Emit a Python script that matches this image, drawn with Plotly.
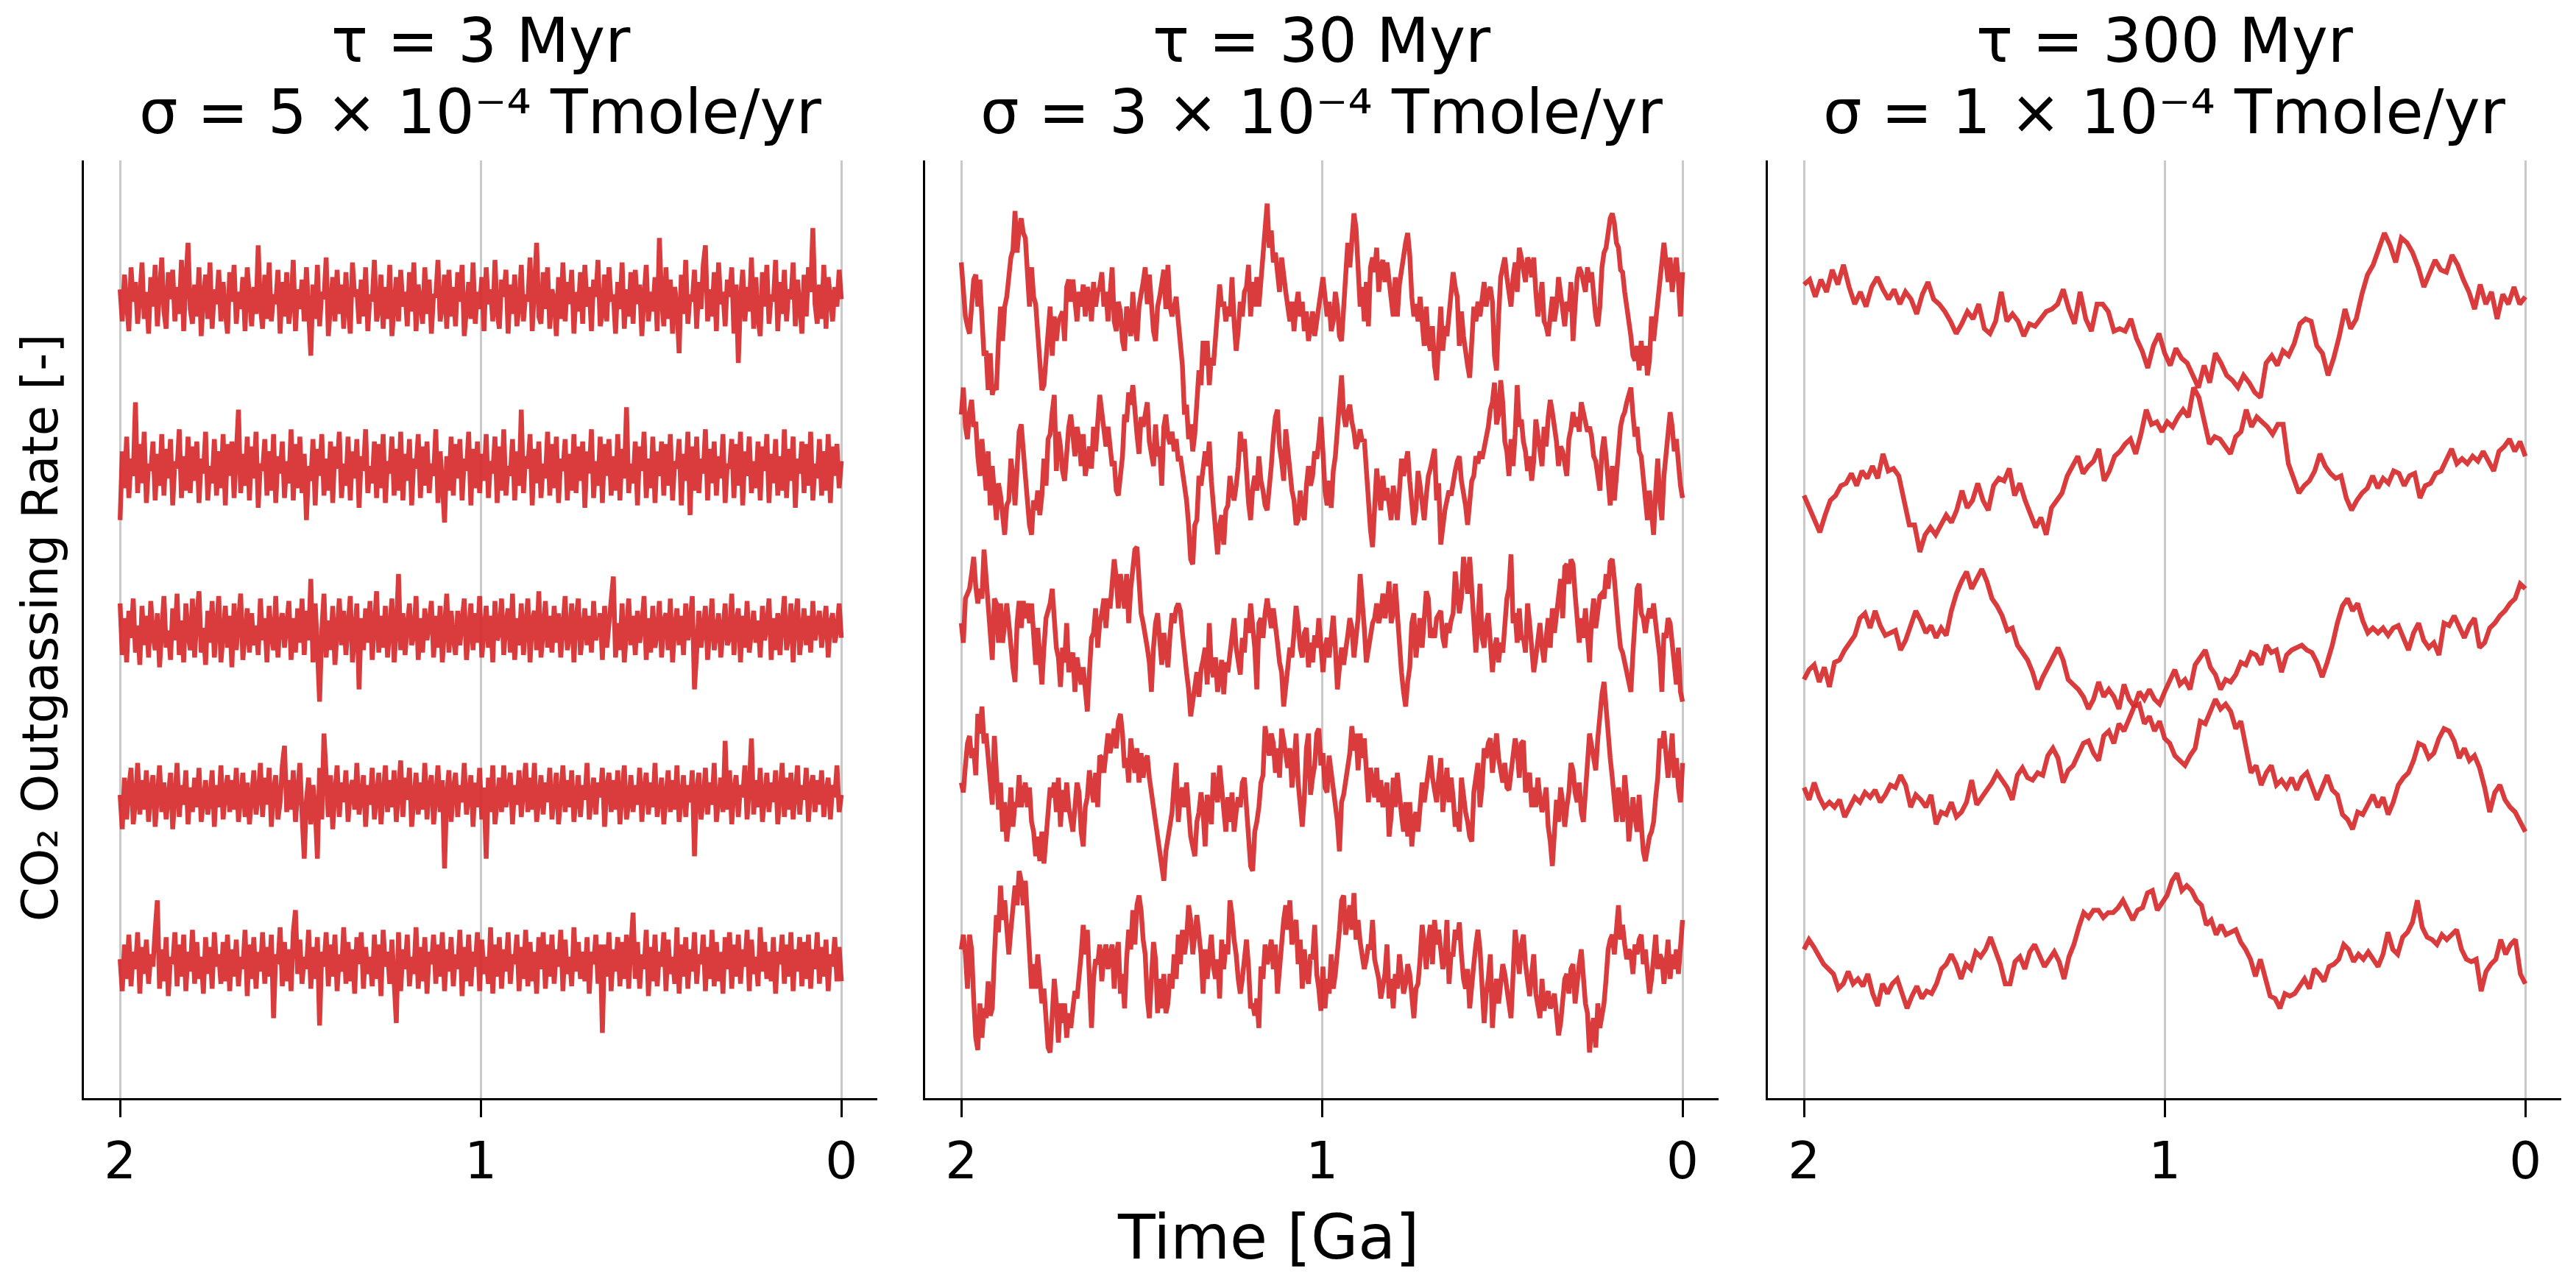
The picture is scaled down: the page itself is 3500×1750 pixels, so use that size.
import numpy as np
import plotly.graph_objects as go

# x axis: time before present [Ga]
TICKS = [2, 1, 0]
TICK_TEXT = ["2", "1", "0"]

# panel parameters (correlation time, noise amplitude)
TAU = ["3", "30", "300"]
SIGMA = ["5", "3", "1"]

# normalised CO2 outgassing rate, five runs per panel (stacked offsets)
# --- tau = 3 Myr ---
p1_r1 = [33.2, 31.9, 33.8, 32.4, 31.5, 34.1, 32.7, 33.5, 31.8, 32.9, 34.3, 32.0, 33.1, 31.4, 33.7,
         32.5, 34.2, 31.7, 33.0, 34.5, 32.3, 31.6, 33.9, 32.8, 34.0, 31.9, 33.3, 32.2, 34.4, 31.5,
         33.6, 35.1, 32.4, 31.8, 33.4, 32.1, 34.1, 31.3, 32.9, 33.8, 32.0, 34.3, 31.6, 33.2, 32.6,
         34.0, 31.9, 33.5, 32.3, 31.4, 33.9, 32.7, 34.2, 31.8, 33.1, 32.4, 33.7, 31.5, 34.1, 32.8,
         31.7, 33.3, 32.2, 35.0, 32.5, 31.6, 33.8, 32.0, 34.3, 31.9, 33.0, 32.6, 34.0, 31.4, 33.5,
         32.1, 33.9, 31.8, 32.7, 34.4, 31.5, 33.2, 32.4, 33.6, 31.9, 34.1, 32.3, 30.5, 33.4, 32.0,
         34.2, 31.7, 33.1, 32.8, 34.5, 31.3, 32.6, 33.7, 31.9, 34.0, 32.2, 33.4, 31.6, 33.9, 32.5,
         31.4, 34.3, 32.9, 33.2, 31.8, 33.6, 32.1, 34.1, 31.5, 33.0, 32.7, 34.4, 31.9, 32.4, 33.8,
         31.6, 33.3, 32.0, 34.2, 31.3, 32.8, 33.7, 31.9, 34.0, 32.5, 33.1, 31.7, 33.9, 32.3, 34.3,
         31.5, 33.4, 32.6, 31.8, 34.1, 32.2, 33.6, 31.4, 33.0, 32.9, 34.4, 31.9, 32.5, 33.8, 31.6,
         34.0, 32.1, 33.3, 31.7, 33.9, 32.7, 34.2, 31.3, 32.8, 33.5, 32.0, 34.3, 31.8, 33.1, 32.4,
         33.7, 31.5, 34.1, 32.6, 33.2, 31.9, 34.4, 32.3, 31.6, 33.6, 32.9, 34.0, 31.4, 33.4, 32.2,
         33.8, 31.7, 32.5, 34.2, 31.9, 33.0, 32.7, 34.5, 31.5, 33.3, 35.1, 32.1, 31.8, 33.9, 32.4,
         34.1, 31.6, 33.2, 32.8, 31.3, 33.7, 32.0, 34.3, 31.9, 33.5, 32.6, 34.0, 31.4, 33.1, 32.3,
         33.9, 31.8, 34.2, 32.5, 33.3, 31.5, 33.6, 32.9, 34.4, 31.7, 32.2, 33.8, 31.9, 34.1, 32.7,
         33.0, 31.4, 33.5, 32.4, 34.3, 31.6, 33.2, 32.1, 33.9, 31.8, 34.0, 32.6, 33.4, 31.3, 32.9,
         34.2, 31.9, 33.1, 32.3, 33.7, 31.5, 35.3, 32.8, 31.7, 34.1, 32.0, 33.6, 31.4, 33.3, 32.5,
         30.6, 33.8, 32.2, 34.4, 31.8, 33.0, 32.7, 34.0, 31.6, 33.5, 32.4, 34.2, 35.0, 31.9, 33.2,
         32.1, 33.9, 31.5, 34.3, 32.6, 33.1, 31.7, 33.6, 32.9, 34.1, 31.4, 33.4, 30.2, 32.8, 34.0,
         31.9, 33.3, 32.3, 34.5, 31.6, 33.7, 32.0, 31.3, 33.9, 32.5, 34.2, 31.8, 33.0, 32.7, 34.4,
         31.5, 33.5, 32.2, 34.0, 31.9, 33.2, 32.8, 34.3, 31.7, 33.6, 32.4, 31.4, 33.8, 32.1, 34.1,
         33.1, 35.7, 32.6, 31.8, 33.4, 32.0, 34.2, 31.6, 33.7, 32.9, 31.9, 33.3, 32.5, 34.0, 32.8]
p1_r2 = [23.8, 26.6, 25.1, 27.2, 24.7, 26.3, 25.6, 28.6, 24.9, 26.9, 25.3, 27.4, 24.5, 26.1, 25.8,
         27.0, 24.6, 26.5, 25.2, 27.3, 24.8, 26.7, 25.5, 27.1, 24.4, 26.2, 25.9, 27.5, 24.7, 26.4,
         25.0, 27.2, 24.9, 26.8, 25.4, 27.0, 24.5, 26.3, 25.7, 27.4, 24.6, 26.0, 25.3, 27.1, 24.8,
         26.6, 25.1, 27.3, 24.4, 26.9, 25.6, 27.0, 24.7, 26.2, 28.3, 24.9, 26.5, 25.2, 27.2, 24.6,
         26.8, 25.5, 27.4, 24.3, 26.1, 25.8, 27.1, 24.8, 26.6, 25.0, 27.3, 24.5, 26.4, 25.7, 27.0,
         24.7, 26.2, 25.3, 27.5, 24.6, 26.9, 25.1, 27.2, 24.9, 26.5, 23.8, 26.0, 25.4, 27.1, 24.4,
         26.7, 25.6, 27.3, 24.8, 26.3, 25.0, 27.0, 24.5, 26.8, 25.9, 27.4, 24.7, 26.1, 25.2, 27.2,
         24.6, 26.6, 25.5, 27.1, 24.3, 26.4, 25.8, 27.5, 24.9, 26.0, 25.3, 27.0, 24.7, 26.9, 25.1,
         27.3, 24.5, 26.2, 25.7, 27.2, 24.8, 26.7, 25.0, 27.4, 24.6, 26.5, 25.4, 27.1, 24.4, 26.3,
         25.9, 27.3, 24.7, 26.8, 25.2, 27.0, 24.9, 26.1, 25.6, 27.5, 24.5, 26.6, 25.3, 23.7, 26.4,
         25.0, 27.2, 24.8, 26.9, 25.5, 27.1, 24.6, 26.3, 25.8, 27.4, 24.4, 26.7, 25.1, 27.0, 24.9,
         26.5, 25.4, 27.3, 24.7, 26.2, 25.7, 27.2, 24.5, 26.8, 25.0, 27.5, 24.8, 26.0, 25.6, 27.1,
         24.6, 26.6, 25.2, 28.3, 24.9, 26.4, 25.9, 27.3, 24.4, 26.7, 25.3, 27.0, 24.7, 26.1, 25.5,
         27.4, 24.8, 26.9, 25.1, 27.2, 24.5, 26.3, 25.8, 27.1, 24.6, 26.5, 25.0, 27.3, 24.9, 26.8,
         25.4, 27.0, 24.3, 26.6, 25.7, 27.5, 24.7, 26.2, 25.2, 27.2, 24.5, 26.9, 25.6, 27.1, 24.8,
         26.4, 25.0, 27.3, 24.6, 26.7, 25.5, 28.4, 24.9, 26.1, 25.3, 27.0, 24.4, 26.8, 25.8, 27.4,
         24.7, 26.3, 25.1, 27.2, 24.5, 26.6, 25.6, 27.0, 24.8, 26.9, 25.2, 27.3, 24.6, 26.2, 25.9,
         27.1, 24.4, 26.5, 25.4, 27.4, 24.0, 26.8, 25.0, 27.2, 24.9, 26.3, 25.7, 27.5, 24.6, 26.7,
         25.3, 27.0, 24.8, 26.4, 25.5, 27.3, 24.5, 26.1, 25.9, 27.1, 24.7, 26.9, 25.2, 27.4, 24.4,
         26.6, 25.6, 27.2, 24.9, 26.2, 25.1, 27.0, 24.6, 26.8, 25.8, 27.3, 24.5, 26.5, 25.3, 27.1,
         24.8, 26.4, 25.0, 27.5, 24.7, 26.7, 25.4, 27.2, 24.3, 26.3, 25.7, 27.0, 24.9, 26.9, 25.2,
         27.4, 24.6, 26.1, 25.5, 27.1, 24.8, 26.6, 25.0, 27.3, 24.5, 26.8, 25.6, 26.9, 25.1, 26.2]
p1_r3 = [20.4, 18.3, 19.8, 18.0, 20.1, 19.0, 20.6, 18.4, 19.5, 17.9, 20.3, 18.7, 19.9, 18.2, 20.5,
         19.1, 18.5, 20.0, 17.8, 19.6, 20.7, 18.6, 19.3, 18.1, 20.2, 18.9, 20.8, 18.3, 19.7, 18.0,
         20.4, 19.2, 18.5, 20.6, 18.2, 19.9, 20.9, 18.4, 19.4, 17.9, 20.1, 18.8, 20.5, 18.2, 19.6,
         20.7, 18.0, 19.3, 20.3, 18.6, 19.9, 17.8, 20.4, 18.5, 19.7, 20.8, 18.1, 19.0, 20.2, 18.4,
         20.0, 18.7, 19.5, 18.3, 20.6, 18.9, 19.8, 18.0, 20.3, 19.1, 18.5, 20.7, 18.2, 19.6, 20.0,
         18.6, 19.4, 20.5, 18.1, 19.8, 18.4, 20.2, 18.8, 20.6, 18.3, 20.1, 18.9, 21.4, 18.0, 20.4,
         18.6, 16.4, 19.3, 20.8, 18.2, 19.7, 18.5, 20.3, 17.9, 19.5, 20.6, 18.7, 20.1, 18.3, 19.6,
         20.7, 18.0, 19.2, 20.4, 16.9, 19.8, 18.5, 20.2, 18.8, 20.5, 18.1, 19.4, 20.9, 18.4, 19.9,
         18.6, 20.3, 18.2, 19.7, 20.6, 18.0, 19.3, 21.6, 18.5, 20.0, 18.3, 19.5, 20.4, 18.7, 19.1,
         20.7, 18.1, 19.8, 18.4, 20.2, 18.9, 19.6, 20.5, 18.2, 19.9, 18.6, 20.3, 18.0, 19.4, 20.8,
         18.4, 20.1, 19.0, 18.3, 20.1, 18.7, 19.7, 20.6, 18.1, 19.3, 20.4, 18.5, 20.0, 18.8, 20.7,
         18.2, 19.5, 20.3, 18.6, 19.9, 18.0, 20.5, 18.9, 19.2, 20.6, 18.3, 19.6, 20.2, 18.4, 20.8,
         18.1, 19.8, 18.7, 20.4, 18.3, 19.4, 20.6, 18.0, 19.7, 20.1, 18.5, 20.9, 18.2, 19.3, 20.5,
         18.6, 19.9, 18.4, 20.3, 18.8, 20.0, 18.2, 19.6, 20.7, 18.5, 19.1, 20.4, 18.0, 19.8, 20.6,
         18.3, 19.5, 20.2, 18.7, 19.9, 18.4, 20.5, 18.9, 19.4, 20.0, 18.1, 20.3, 18.6, 19.7, 20.8,
         21.5, 18.2, 19.6, 18.5, 20.4, 18.0, 19.3, 20.6, 18.7, 19.9, 18.3, 20.1, 18.8, 19.5, 20.7,
         18.1, 19.8, 18.4, 20.3, 18.6, 19.2, 20.5, 18.2, 19.7, 20.0, 18.5, 20.6, 18.0, 19.4, 20.2,
         18.7, 19.9, 18.3, 20.4, 18.9, 19.6, 20.7, 16.9, 18.4, 20.1, 18.6, 19.5, 20.3, 18.1, 19.8,
         20.6, 18.5, 19.3, 20.0, 18.2, 19.7, 20.4, 18.7, 19.0, 20.8, 18.3, 19.6, 20.2, 18.0, 19.9,
         18.6, 20.5, 18.4, 19.4, 20.1, 18.8, 19.7, 18.2, 20.3, 18.9, 19.5, 20.6, 18.1, 19.8, 18.5,
         20.0, 18.3, 19.6, 20.7, 18.5, 19.1, 20.4, 18.0, 19.8, 20.6, 18.3, 19.5, 20.2, 18.7, 19.9,
         18.4, 20.5, 18.9, 19.4, 20.1, 18.6, 19.7, 20.3, 18.2, 19.6, 20.0, 18.8, 19.3, 20.4, 19.0]
p1_r4 = [12.6, 11.2, 13.3, 11.6, 12.9, 13.7, 11.4, 12.3, 13.9, 11.8, 13.2, 12.0, 13.6, 11.5, 12.8,
         13.4, 11.3, 12.5, 13.8, 11.9, 13.1, 11.6, 12.7, 13.5, 11.2, 12.4, 13.9, 11.7, 13.0, 12.2,
         13.6, 11.4, 12.9, 11.9, 13.3, 12.1, 13.7, 11.5, 12.6, 13.2, 11.8, 12.4, 13.6, 11.3, 13.0,
         12.1, 13.8, 11.6, 12.7, 13.4, 11.9, 13.2, 12.0, 13.7, 11.5, 12.8, 13.5, 11.7, 13.1, 11.4,
         12.9, 13.6, 11.8, 12.5, 13.9, 11.7, 13.3, 12.2, 13.7, 11.3, 12.8, 13.4, 11.6, 12.3, 13.8,
         14.6, 11.9, 13.2, 12.0, 13.6, 11.5, 12.7, 13.9, 11.8, 10.0, 12.4, 13.3, 11.4, 13.0, 12.1,
         10.0, 13.7, 11.6, 15.1, 12.9, 11.7, 13.4, 11.2, 12.7, 13.8, 11.7, 13.1, 12.3, 13.6, 11.5,
         12.8, 13.2, 12.0, 13.9, 11.8, 12.5, 13.4, 11.3, 13.0, 12.2, 13.7, 11.6, 12.9, 13.5, 11.4,
         12.6, 13.8, 11.9, 13.2, 12.1, 13.6, 11.5, 12.8, 14.0, 11.7, 13.3, 12.4, 13.7, 11.3, 12.7,
         13.5, 11.8, 13.1, 12.0, 13.9, 11.6, 12.9, 13.4, 11.4, 12.5, 13.8, 11.9, 13.2, 9.6, 12.6,
         13.6, 11.5, 12.8, 13.5, 11.7, 13.0, 12.3, 13.9, 11.8, 12.6, 13.4, 11.3, 13.1, 12.1, 13.7,
         11.6, 12.9, 10.0, 13.3, 11.9, 13.8, 11.4, 12.4, 13.3, 11.9, 13.8, 12.1, 12.7, 13.5, 11.4,
         13.0, 12.2, 13.6, 11.7, 12.8, 13.9, 11.9, 13.3, 12.0, 13.9, 11.5, 12.6, 13.4, 11.8, 13.1,
         12.3, 13.7, 11.6, 12.9, 13.5, 11.4, 12.7, 13.8, 11.9, 13.2, 12.1, 13.6, 11.5, 12.8, 13.4,
         11.7, 13.0, 12.4, 13.9, 11.6, 12.6, 13.3, 11.8, 13.1, 12.5, 13.7, 11.3, 12.9, 13.5, 11.9,
         13.2, 12.0, 13.6, 11.4, 12.7, 13.8, 11.6, 12.3, 13.4, 11.9, 13.0, 12.2, 13.7, 11.5, 12.8,
         13.5, 11.8, 13.1, 12.1, 13.9, 11.7, 12.5, 13.3, 11.4, 12.9, 13.6, 11.9, 13.2, 12.0, 13.8,
         11.5, 12.7, 13.4, 11.7, 13.0, 12.3, 13.6, 10.1, 12.8, 13.5, 11.6, 12.4, 13.7, 11.8, 13.1,
         12.2, 13.9, 11.5, 12.6, 13.3, 11.9, 14.8, 12.0, 13.6, 11.4, 12.8, 13.4, 11.7, 13.0, 12.5,
         13.8, 11.6, 12.9, 14.9, 11.8, 13.2, 12.1, 13.7, 11.5, 12.7, 13.5, 11.9, 13.1, 12.3, 13.6,
         11.4, 12.8, 13.9, 11.7, 13.3, 12.0, 13.5, 11.6, 12.6, 13.8, 11.8, 13.0, 12.4, 13.7, 11.5,
         12.9, 13.4, 11.9, 13.2, 12.2, 13.6, 11.7, 12.7, 13.3, 11.6, 13.0, 12.5, 13.8, 11.9, 12.6]
p1_r5 = [5.9, 4.6, 6.5, 5.1, 6.9, 4.8, 6.2, 5.5, 7.0, 4.5, 6.4, 5.3, 6.7, 4.9, 6.1,
         5.6, 7.1, 8.3, 4.7, 6.3, 5.0, 6.8, 4.4, 6.0, 5.7, 7.0, 4.8, 6.5, 5.2, 6.9,
         4.6, 6.2, 5.4, 7.1, 4.9, 6.6, 5.1, 6.0, 4.5, 6.8, 5.3, 6.4, 4.7, 7.0, 5.6,
         6.1, 4.9, 6.6, 5.0, 6.9, 4.6, 6.3, 5.2, 6.7, 4.8, 6.0, 5.5, 7.1, 4.4, 6.5,
         5.1, 6.8, 4.7, 6.2, 5.4, 7.0, 4.9, 6.4, 5.2, 6.9, 3.5, 6.1, 5.7, 7.2, 4.8,
         6.6, 5.0, 6.3, 4.6, 7.0, 7.9, 5.3, 6.7, 4.9, 6.0, 5.5, 7.1, 4.7, 6.4, 5.1,
         6.8, 3.2, 6.2, 5.6, 7.0, 4.8, 6.5, 5.2, 6.9, 4.6, 6.1, 5.4, 7.2, 4.9, 6.6,
         5.0, 6.3, 4.5, 6.8, 5.7, 7.0, 4.7, 6.4, 5.3, 6.0, 4.8, 6.9, 5.1, 6.5, 4.4,
         7.1, 5.6, 6.2, 4.9, 6.7, 5.2, 3.3, 7.0, 4.6, 6.3, 5.5, 6.9, 4.8, 6.0, 5.3,
         7.2, 4.7, 6.4, 5.0, 6.8, 4.5, 6.2, 5.7, 6.9, 4.9, 6.5, 5.2, 7.0, 4.6, 6.3,
         5.4, 6.8, 4.8, 6.1, 5.5, 7.1, 4.4, 6.4, 5.0, 6.9, 4.8, 6.2, 5.6, 7.0, 4.6,
         6.7, 5.3, 6.0, 4.9, 7.2, 4.5, 6.5, 5.2, 6.8, 4.7, 6.3, 5.4, 7.0, 4.9, 6.1,
         5.7, 6.9, 4.6, 6.4, 5.1, 7.1, 4.8, 6.6, 5.0, 6.2, 4.5, 6.8, 5.5, 7.0, 4.7,
         6.5, 5.2, 6.9, 4.9, 6.3, 5.6, 7.1, 4.6, 6.7, 5.3, 6.0, 4.8, 7.2, 5.4, 6.6,
         5.1, 6.2, 5.0, 6.8, 4.5, 6.2, 5.7, 6.9, 4.9, 6.5, 2.9, 6.5, 5.2, 7.0, 4.6,
         6.3, 5.4, 6.8, 4.8, 6.6, 5.1, 6.9, 4.7, 6.4, 7.8, 5.1, 6.6, 4.7, 6.1, 5.5,
         7.1, 4.4, 6.4, 5.0, 6.9, 4.8, 6.2, 5.6, 7.0, 4.6, 6.7, 5.3, 6.0, 4.9, 7.2,
         4.5, 6.5, 5.2, 6.8, 4.7, 6.3, 5.4, 7.0, 4.9, 6.1, 5.7, 6.9, 4.6, 6.4, 5.1,
         7.1, 4.8, 6.6, 5.0, 6.2, 4.5, 6.8, 5.5, 7.0, 4.7, 6.5, 5.2, 6.9, 4.9, 6.3,
         5.6, 7.1, 4.6, 6.7, 5.3, 6.0, 4.8, 7.2, 5.4, 6.6, 5.1, 6.2, 5.0, 6.8, 4.5,
         6.2, 5.7, 6.9, 4.9, 6.5, 5.2, 7.0, 4.6, 6.3, 5.4, 6.8, 4.8, 6.6, 5.1, 6.9,
         4.7, 6.3, 5.5, 7.0, 4.9, 6.4, 5.2, 6.7, 4.6, 6.1, 5.6, 6.8, 5.0, 6.4, 5.0]

# --- tau = 30 Myr ---
p2_r1 = [34.3, 33.1, 32.1, 31.7, 31.4, 32.5, 33.6, 33.8, 32.5, 33.6, 31.6, 30.5, 30.7, 29.1, 30.6, 28.9, 29.3, 29.1, 31.1, 32.5,
         31.1, 32.5, 32.9, 33.8, 34.5, 34.8, 36.4, 34.7, 35.7, 36.1, 35.5, 35.3, 33.5, 32.5, 34.1, 32.9, 32.6, 31.6, 30.3, 29.1,
         29.3, 30.5, 31.1, 32.5, 30.5, 32.1, 31.1, 31.9, 32.1, 32.3, 31.1, 33.3, 33.6, 32.7, 33.6, 32.7, 31.9, 33.1, 32.5, 33.4,
         32.1, 33.3, 32.9, 31.9, 33.5, 32.5, 33.1, 33.3, 33.9, 32.5, 33.1, 31.9, 32.9, 34.1, 31.9, 31.5, 32.7, 32.3, 31.1, 30.7,
         32.5, 32.1, 31.3, 33.1, 31.7, 31.1, 32.5, 32.9, 33.5, 34.1, 32.6, 33.8, 32.5, 31.5, 31.1, 32.5, 32.9, 33.5, 34.0, 32.4,
         34.2, 32.5, 32.1, 32.5, 32.9, 31.9, 31.1, 30.1, 28.1, 28.5, 27.1, 27.7, 26.6, 27.3, 28.6, 29.9, 29.3, 31.1, 30.1, 31.1,
         29.3, 30.4, 30.1, 31.4, 32.2, 33.4, 32.5, 32.7, 31.9, 32.5, 32.1, 33.7, 31.9, 30.7, 31.5, 32.7, 32.1, 33.1, 33.3, 34.2,
         32.1, 33.5, 32.5, 33.7, 32.5, 33.5, 34.3, 35.3, 36.7, 34.9, 35.6, 34.3, 34.7, 33.9, 33.1, 34.5, 33.6, 33.1, 32.5, 31.9,
         32.7, 31.5, 32.5, 33.1, 32.1, 32.7, 31.5, 32.3, 31.1, 31.7, 32.3, 31.3, 31.9, 32.5, 32.9, 33.7, 32.9, 32.1, 32.7, 31.5,
         31.9, 33.1, 32.5, 31.3, 31.1, 32.5, 33.7, 35.1, 34.1, 35.1, 36.3, 35.7, 34.3, 32.5, 33.3, 31.9, 33.5, 31.7, 34.1, 34.5,
         33.9, 34.9, 33.1, 34.1, 34.4, 33.5, 34.3, 33.5, 32.5, 32.1, 33.7, 32.1, 33.4, 34.1, 34.7, 35.1, 35.5, 34.6, 32.9, 32.1,
         32.6, 31.9, 32.9, 32.1, 30.9, 32.5, 31.1, 30.7, 31.7, 30.1, 29.5, 31.1, 32.5, 30.7, 31.7, 31.3, 32.1, 32.9, 33.9, 33.3,
         32.9, 30.9, 32.3, 31.3, 30.5, 30.1, 29.6, 31.6, 32.5, 31.9, 32.7, 32.1, 32.9, 33.5, 32.5, 33.1, 33.3, 32.7, 30.5, 29.9,
         32.1, 33.7, 34.1, 34.5, 33.7, 33.1, 32.5, 33.7, 34.3, 33.1, 34.9, 34.5, 34.1, 33.5, 34.5, 34.3, 33.7, 34.5, 33.1, 32.1,
         32.7, 33.5, 31.9, 31.7, 31.3, 32.1, 32.9, 31.9, 32.5, 33.7, 32.9, 32.1, 31.7, 32.7, 32.3, 33.5, 31.1, 32.5, 33.7, 34.1,
         33.9, 33.5, 33.1, 34.1, 33.5, 33.9, 32.9, 32.1, 31.7, 32.5, 34.1, 34.7, 34.9, 35.7, 36.1, 36.3, 35.9, 35.1, 34.9, 34.0,
         33.9, 33.1, 32.5, 32.1, 31.3, 30.5, 30.3, 30.9, 29.9, 31.1, 30.1, 30.9, 29.7, 30.3, 32.1, 31.1, 31.9, 32.5, 33.5, 34.5,
         35.1, 34.3, 33.5, 34.5, 33.1, 33.9, 34.5, 33.5, 32.1, 33.9]
p2_r2 = [28.1, 29.2, 27.6, 27.1, 28.2, 28.7, 27.6, 27.8, 26.4, 25.6, 27.1, 25.9, 25.0, 26.6, 24.4, 26.0, 25.0, 23.8, 25.3, 24.8,
         24.0, 23.2, 24.4, 24.6, 26.3, 25.6, 24.4, 25.8, 27.4, 27.7, 26.4, 25.6, 24.6, 23.6, 23.2, 24.6, 24.2, 25.0, 24.0, 24.8,
         26.3, 25.2, 27.1, 27.3, 28.2, 28.9, 25.8, 27.4, 26.8, 25.8, 25.4, 26.8, 27.6, 28.1, 27.1, 26.4, 27.6, 27.1, 26.0, 27.3,
         25.6, 26.4, 26.8, 25.9, 27.6, 26.6, 28.1, 28.9, 28.2, 27.6, 26.8, 27.6, 26.6, 26.0, 26.2, 25.0, 24.8, 25.6, 26.4, 28.1,
         27.8, 29.0, 28.5, 29.3, 27.9, 27.3, 26.5, 28.0, 27.6, 28.1, 28.6, 27.0, 26.6, 26.0, 27.7, 26.4, 26.8, 25.2, 27.6, 28.1,
         27.2, 26.9, 27.4, 26.6, 27.1, 26.2, 26.4, 25.8, 25.0, 24.6, 23.6, 22.2, 22.0, 23.6, 23.8, 25.6, 25.2, 25.8, 26.6, 26.0,
         27.0, 25.4, 24.2, 23.6, 22.4, 23.6, 24.0, 22.8, 24.2, 24.4, 25.6, 25.0, 24.6, 25.2, 26.0, 27.4, 26.6, 27.1, 25.4, 24.5,
         23.8, 25.1, 25.6, 25.0, 26.4, 25.4, 25.0, 24.4, 24.2, 25.0, 26.0, 27.2, 28.0, 28.3, 26.8, 26.2, 25.4, 27.5, 26.6, 25.8,
         25.0, 24.6, 23.6, 23.8, 25.0, 24.2, 23.8, 25.2, 26.0, 25.2, 25.6, 26.6, 26.3, 27.0, 28.0, 26.6, 25.0, 24.4, 25.4, 24.3,
         25.8, 26.4, 27.4, 28.6, 29.7, 28.1, 27.6, 28.2, 28.5, 27.8, 27.4, 26.7, 27.0, 27.5, 27.0, 27.1, 25.8, 24.2, 23.4, 22.7,
         24.4, 25.9, 25.0, 24.2, 25.6, 24.6, 25.1, 24.2, 23.8, 25.2, 24.4, 23.8, 25.0, 26.3, 25.6, 26.2, 26.6, 25.4, 24.6, 23.6,
         24.2, 25.8, 25.2, 24.6, 23.8, 24.8, 25.6, 25.9, 26.4, 26.7, 24.6, 25.3, 22.8, 23.6, 24.2, 24.6, 25.0, 24.8, 25.4, 25.8,
         26.2, 26.4, 25.4, 25.0, 24.4, 23.6, 24.6, 25.4, 25.6, 26.4, 26.1, 26.6, 26.3, 26.7, 27.0, 27.6, 28.3, 28.6, 29.4, 27.7,
         28.1, 29.5, 28.6, 27.0, 26.6, 25.6, 27.1, 26.0, 27.3, 29.3, 27.6, 27.9, 27.0, 26.6, 25.8, 26.4, 25.4, 26.2, 27.9, 27.3,
         26.7, 26.0, 27.6, 26.8, 28.0, 28.7, 28.2, 27.6, 27.0, 26.0, 26.8, 26.6, 26.2, 25.6, 27.1, 27.5, 28.2, 27.6, 28.0, 27.4,
         28.6, 28.2, 27.7, 27.4, 27.6, 27.2, 26.4, 26.2, 25.6, 25.0, 26.6, 27.2, 26.4, 25.0, 24.4, 26.0, 24.6, 25.6, 27.0, 27.6,
         28.0, 28.2, 28.6, 28.9, 29.2, 28.1, 27.2, 27.6, 26.6, 26.4, 25.6, 24.6, 23.8, 25.0, 23.8, 23.2, 25.0, 26.3, 24.6, 23.8,
         25.6, 26.4, 27.1, 28.2, 27.6, 26.6, 27.1, 26.0, 25.2, 24.7]
p2_r3 = [19.6, 18.8, 20.6, 20.8, 21.0, 21.6, 22.3, 21.1, 20.4, 21.0, 20.6, 22.6, 21.6, 20.6, 19.6, 18.1, 20.6, 20.4, 18.8, 20.4,
         18.8, 19.6, 20.4, 19.6, 18.6, 17.8, 17.2, 19.6, 20.5, 19.4, 20.5, 19.8, 20.4, 19.6, 20.4, 18.8, 17.9, 19.4, 18.2, 17.1,
         18.6, 19.8, 20.1, 20.4, 21.0, 20.0, 18.6, 18.2, 17.0, 18.6, 18.0, 19.6, 17.6, 18.1, 18.4, 16.8, 18.2, 17.6, 17.1, 17.8,
         16.6, 16.0, 17.6, 19.0, 19.2, 20.2, 18.6, 19.6, 20.0, 20.6, 19.4, 20.6, 20.2, 21.4, 22.2, 21.4, 20.2, 21.6, 21.0, 20.2,
         21.6, 19.6, 21.0, 22.1, 22.6, 22.7, 21.6, 20.0, 19.6, 19.2, 18.6, 18.0, 16.8, 18.6, 19.6, 20.0, 19.0, 17.9, 19.2, 18.6,
         17.8, 19.1, 20.0, 19.6, 20.2, 20.4, 20.1, 19.2, 18.1, 17.6, 16.9, 15.8, 16.4, 17.2, 17.6, 16.6, 17.7, 18.1, 18.6, 17.1,
         19.6, 17.8, 17.4, 18.2, 16.8, 17.4, 18.1, 16.7, 18.0, 17.6, 18.3, 19.0, 19.8, 18.6, 18.0, 17.5, 19.0, 18.4, 19.8, 19.2,
         20.4, 19.4, 18.6, 16.9, 19.6, 19.8, 19.0, 20.0, 20.6, 20.0, 19.4, 20.2, 19.6, 18.8, 18.0, 17.6, 16.2, 17.2, 17.8, 18.6,
         18.2, 19.2, 20.3, 19.6, 18.6, 18.2, 19.2, 19.4, 17.8, 18.8, 18.0, 19.1, 18.6, 19.8, 18.8, 17.6, 18.6, 19.0, 18.2, 19.0,
         19.9, 18.6, 16.9, 17.8, 18.6, 17.9, 18.7, 19.1, 19.8, 19.4, 18.2, 19.0, 19.8, 21.6, 20.6, 19.4, 18.0, 18.6, 19.2, 19.6,
         19.8, 20.4, 19.6, 20.0, 20.8, 19.8, 20.4, 21.3, 19.6, 20.0, 21.2, 19.8, 18.6, 17.6, 16.8, 16.2, 17.2, 17.8, 19.6, 20.0,
         18.2, 19.0, 19.8, 18.6, 19.8, 20.9, 20.6, 19.0, 19.4, 19.0, 19.8, 20.0, 20.1, 19.0, 18.6, 19.6, 19.2, 19.7, 20.0, 21.7,
         20.8, 20.0, 20.6, 22.3, 21.6, 20.8, 22.3, 21.0, 20.0, 18.4, 19.6, 21.2, 19.0, 18.6, 19.6, 20.0, 18.8, 17.6, 18.6, 19.0,
         18.0, 18.8, 18.4, 19.6, 20.6, 21.0, 22.4, 19.6, 20.0, 18.8, 20.2, 19.0, 19.0, 18.4, 20.4, 19.6, 18.6, 17.6, 18.2, 18.9,
         19.6, 18.6, 18.0, 19.0, 19.8, 18.6, 20.2, 19.2, 20.0, 21.0, 21.4, 19.8, 21.9, 22.0, 21.2, 22.2, 22.0, 20.8, 19.4, 18.8,
         19.8, 19.0, 20.2, 19.2, 18.0, 19.8, 20.6, 19.4, 20.0, 20.7, 20.8, 20.6, 21.6, 21.0, 22.1, 22.2, 21.4, 20.2, 19.4, 18.6,
         18.4, 18.0, 17.6, 17.2, 16.8, 18.4, 20.2, 21.0, 21.2, 20.0, 19.8, 19.2, 19.8, 20.2, 19.8, 20.4, 19.6, 19.0, 18.2, 16.8,
         19.2, 19.0, 19.8, 19.6, 18.6, 17.8, 17.1, 18.6, 16.8, 16.4]
p2_r4 = [13.1, 12.7, 13.8, 14.7, 15.0, 14.1, 14.5, 13.4, 15.9, 15.1, 16.2, 14.7, 15.1, 14.1, 13.2, 12.2, 15.0, 13.6, 12.0, 13.1,
         11.1, 12.3, 10.7, 11.5, 12.9, 11.3, 12.3, 12.1, 13.4, 12.1, 12.5, 13.1, 12.1, 12.9, 11.5, 11.1, 10.1, 10.9, 9.9, 11.1,
         9.8, 10.9, 12.1, 12.9, 12.5, 13.1, 11.9, 13.3, 11.3, 12.8, 11.9, 13.1, 12.1, 11.7, 11.1, 12.1, 13.1, 12.7, 11.1, 10.5,
         12.1, 12.5, 13.6, 12.9, 12.3, 13.5, 12.1, 14.2, 14.1, 13.5, 14.6, 15.1, 14.3, 14.9, 15.3, 14.5, 15.6, 15.9, 15.1, 13.7,
         14.1, 13.1, 14.9, 14.1, 13.5, 14.5, 13.1, 14.3, 13.3, 14.0, 14.2, 13.3, 12.7, 12.3, 11.7, 11.1, 10.5, 9.6, 9.1, 10.3,
         10.9, 11.5, 11.9, 13.1, 13.9, 11.5, 12.5, 12.9, 12.1, 13.1, 11.7, 10.9, 10.5, 10.1, 11.5, 11.9, 12.7, 11.9, 10.5, 12.6,
         12.1, 11.4, 13.5, 12.9, 12.3, 13.8, 12.9, 12.1, 11.1, 12.5, 11.5, 12.7, 11.1, 11.9, 12.5, 12.1, 13.1, 13.3, 11.9, 10.7,
         9.7, 9.5, 11.1, 11.5, 12.1, 13.1, 13.4, 15.4, 14.9, 14.2, 15.1, 14.7, 13.5, 14.5, 13.3, 15.3, 14.8, 14.1, 13.7, 14.5,
         12.9, 13.8, 15.1, 13.1, 12.3, 11.3, 12.5, 14.5, 15.1, 12.6, 13.3, 13.8, 15.1, 15.3, 13.8, 14.3, 12.9, 12.7, 14.2, 13.5,
         13.1, 12.3, 11.5, 10.3, 12.3, 12.6, 13.1, 13.7, 14.3, 15.4, 14.4, 15.1, 13.6, 15.1, 14.1, 14.9, 13.6, 12.3, 13.7, 12.9,
         12.5, 13.7, 12.3, 13.2, 12.1, 12.6, 13.1, 10.9, 11.7, 13.3, 12.1, 13.5, 12.5, 11.8, 11.1, 12.3, 10.9, 12.3, 10.5, 11.6,
         11.9, 11.1, 12.1, 13.1, 12.3, 12.9, 13.7, 14.2, 13.3, 12.7, 12.3, 13.3, 14.1, 11.9, 13.1, 13.7, 12.3, 13.3, 12.5, 11.3,
         11.9, 11.1, 13.3, 12.5, 11.9, 11.5, 10.9, 10.7, 12.7, 13.3, 13.9, 12.1, 12.9, 14.5, 14.1, 14.7, 14.9, 13.5, 14.3, 15.1,
         14.1, 13.5, 13.1, 13.9, 12.9, 12.8, 13.5, 14.1, 14.9, 14.4, 13.3, 14.7, 14.8, 12.7, 13.1, 13.5, 12.1, 12.9, 12.1, 13.3,
         12.5, 11.9, 12.3, 12.9, 11.3, 10.7, 9.7, 11.5, 12.4, 11.5, 12.9, 12.3, 11.3, 12.1, 12.7, 13.9, 13.6, 12.7, 12.3, 13.1,
         11.9, 11.5, 12.8, 14.1, 15.1, 14.6, 14.1, 13.6, 14.9, 15.9, 16.7, 17.2, 16.1, 14.6, 14.1, 13.3, 12.5, 11.5, 12.9, 12.3,
         11.5, 13.4, 12.5, 10.7, 11.5, 12.5, 11.7, 11.1, 12.6, 11.5, 10.3, 9.9, 10.5, 10.9, 11.1, 11.5, 12.5, 13.3, 14.9, 14.5,
         15.2, 14.1, 13.3, 14.1, 15.1, 13.3, 14.1, 12.9, 12.3, 13.9]
p2_r5 = [6.3, 6.9, 6.1, 4.7, 6.9, 6.3, 4.3, 2.7, 2.2, 4.1, 2.7, 3.9, 3.5, 5.0, 3.6, 3.9, 6.0, 7.7, 7.0, 8.9,
         7.5, 8.3, 7.2, 6.1, 7.1, 7.8, 8.9, 8.1, 9.5, 9.1, 8.1, 9.1, 7.6, 6.5, 4.7, 5.7, 4.7, 6.1, 5.1, 4.1,
         4.7, 3.5, 2.3, 2.1, 3.5, 5.1, 4.1, 2.5, 4.1, 3.3, 4.1, 2.7, 3.7, 3.1, 3.9, 4.6, 4.3, 5.1, 6.1, 7.3,
         6.1, 7.1, 4.5, 3.1, 5.1, 5.9, 5.7, 6.5, 5.0, 6.1, 6.5, 5.5, 6.1, 6.5, 4.7, 6.1, 6.6, 4.5, 5.3, 3.9,
         5.9, 7.1, 6.3, 7.9, 6.5, 8.1, 8.5, 7.9, 6.7, 6.1, 4.3, 3.5, 5.1, 6.6, 5.9, 3.7, 5.1, 3.9, 5.3, 3.7,
         4.1, 5.3, 4.7, 6.1, 5.1, 6.9, 5.7, 7.1, 6.1, 6.7, 8.1, 7.5, 6.1, 7.1, 7.7, 6.9, 6.1, 4.5, 6.3, 5.1,
         6.1, 6.9, 5.6, 5.1, 5.9, 4.3, 6.7, 5.5, 6.5, 6.1, 8.3, 7.7, 6.7, 6.1, 5.1, 4.5, 5.1, 6.1, 6.7, 5.6,
         3.9, 4.1, 3.6, 4.3, 3.1, 5.6, 5.1, 6.5, 5.7, 6.1, 6.7, 5.5, 6.5, 4.5, 5.6, 6.7, 7.5, 8.1, 7.1, 8.3,
         6.5, 7.1, 7.5, 5.7, 6.7, 4.7, 6.3, 5.3, 4.9, 6.1, 5.9, 7.3, 5.3, 4.7, 3.8, 5.6, 3.9, 5.1, 4.5, 6.1,
         4.7, 5.3, 6.1, 7.1, 8.3, 8.5, 6.9, 7.5, 8.1, 7.1, 8.6, 6.7, 7.5, 6.6, 5.9, 5.5, 5.9, 6.5, 6.3, 7.5,
         5.9, 5.5, 5.1, 4.3, 4.7, 5.3, 6.5, 4.3, 5.1, 3.9, 5.3, 4.7, 6.1, 5.1, 4.5, 4.9, 5.7, 5.3, 4.3, 3.5,
         4.7, 4.9, 5.9, 7.3, 6.5, 5.5, 6.7, 7.3, 5.7, 7.5, 6.5, 7.1, 6.3, 5.5, 5.9, 7.5, 4.9, 6.1, 6.1, 7.1,
         6.7, 7.4, 6.1, 5.1, 4.7, 5.5, 3.9, 5.1, 5.7, 6.5, 7.1, 6.3, 5.1, 3.3, 4.5, 5.1, 6.1, 3.1, 4.5, 5.1,
         4.1, 4.9, 5.7, 5.3, 4.5, 4.1, 3.5, 4.9, 7.1, 6.3, 5.3, 6.5, 6.9, 5.7, 4.9, 4.4, 5.3, 6.1, 4.5, 4.1,
         3.5, 5.1, 3.8, 4.3, 4.6, 3.9, 4.1, 4.5, 3.5, 2.8, 3.3, 4.3, 5.1, 5.3, 4.5, 5.5, 5.7, 4.1, 5.1, 5.7,
         6.3, 5.3, 4.1, 3.7, 2.1, 3.1, 3.5, 2.3, 4.1, 3.1, 3.5, 4.1, 5.1, 6.3, 6.7, 6.9, 6.1, 7.1, 8.1, 6.7,
         7.3, 6.5, 5.9, 6.3, 6.1, 5.3, 6.5, 6.1, 6.7, 6.9, 5.7, 6.3, 5.1, 4.5, 5.1, 6.1, 6.9, 5.5, 6.1, 5.9,
         4.9, 5.7, 6.7, 5.1, 6.1, 5.5, 6.3, 5.3, 6.5, 7.5]

# --- tau = 300 Myr ---
p3_r1 = [33.4, 33.6, 32.9, 33.6, 33.1, 34.0, 33.4, 34.2, 33.3, 32.6, 33.1, 32.5, 33.3, 33.7, 33.2, 32.8, 33.2, 32.6, 33.1, 32.8,
         32.2, 33.0, 33.5, 32.8, 32.6, 32.3, 31.9, 31.4, 31.8, 32.3, 32.0, 32.6, 31.6, 31.4, 31.9, 33.1, 31.9, 32.2, 31.9, 31.3,
         31.8, 31.7, 32.0, 32.3, 32.4, 32.6, 33.2, 32.4, 31.8, 33.1, 32.0, 31.5, 32.6, 32.6, 32.3, 31.5, 31.6, 31.5, 32.0, 31.2,
         30.7, 30.0, 30.9, 31.4, 30.6, 30.1, 30.8, 30.4, 30.2, 29.7, 29.2, 30.1, 29.4, 30.6, 30.2, 29.7, 29.5, 29.2, 29.7, 29.4,
         29.0, 28.8, 30.2, 30.5, 30.1, 30.7, 30.5, 31.0, 31.8, 32.0, 31.9, 30.9, 30.6, 29.7, 30.4, 31.3, 32.4, 31.6, 32.0, 33.0,
         33.8, 34.2, 34.8, 35.5, 35.0, 34.3, 35.3, 35.1, 34.7, 34.1, 33.3, 33.9, 34.4, 34.0, 33.9, 34.6, 34.2, 33.6, 33.1, 32.4,
         33.4, 32.6, 33.1, 32.0, 33.0, 32.6, 33.3, 32.6, 32.9]
p3_r2 = [24.8, 24.3, 23.8, 23.3, 24.0, 24.6, 24.8, 25.2, 25.3, 25.7, 25.2, 25.8, 25.5, 26.0, 25.5, 26.5, 25.8, 25.9, 25.6, 24.6,
         23.6, 23.6, 22.5, 23.2, 23.5, 23.2, 23.6, 24.0, 23.7, 24.2, 25.0, 24.3, 24.6, 25.3, 24.6, 24.2, 25.2, 25.5, 25.4, 25.9,
         24.8, 25.3, 24.6, 24.0, 23.5, 23.9, 23.2, 24.3, 24.6, 24.9, 25.6, 26.0, 26.4, 25.7, 26.0, 26.2, 26.7, 25.4, 25.8, 26.4,
         26.6, 26.9, 27.1, 26.5, 27.3, 28.3, 27.7, 27.8, 27.4, 27.8, 27.6, 28.0, 28.3, 28.0, 29.2, 28.8, 27.8, 26.9, 27.2, 27.1,
         26.8, 26.5, 27.2, 27.4, 28.3, 27.6, 28.0, 27.8, 27.6, 27.3, 27.7, 27.7, 26.1, 25.5, 24.9, 25.2, 25.4, 25.8, 26.5, 26.0,
         25.7, 25.5, 25.6, 24.7, 24.2, 24.6, 24.9, 25.1, 25.6, 25.1, 25.5, 25.3, 25.8, 25.7, 25.2, 25.6, 25.7, 24.7, 25.2, 25.3,
         25.7, 25.8, 26.2, 26.7, 26.1, 26.3, 26.1, 26.4, 26.2, 26.6, 26.2, 25.8, 26.6, 26.8, 27.1, 26.6, 27.0, 26.4]
p3_r3 = [17.3, 17.7, 17.9, 17.2, 17.8, 17.0, 18.0, 18.1, 18.5, 18.8, 19.1, 19.8, 20.0, 19.4, 20.1, 19.5, 19.1, 19.2, 19.3, 18.5,
         18.9, 19.5, 20.1, 19.7, 19.2, 19.5, 19.0, 19.4, 19.1, 20.1, 20.8, 21.3, 21.7, 21.0, 21.4, 21.8, 21.3, 20.6, 20.3, 19.9,
         19.3, 19.4, 18.7, 18.4, 18.1, 17.6, 16.9, 17.4, 17.8, 18.3, 18.6, 18.1, 17.3, 17.1, 16.9, 16.6, 16.1, 16.5, 17.2, 16.6,
         16.9, 16.6, 16.1, 17.1, 16.5, 16.2, 16.8, 16.5, 16.9, 16.5, 16.3, 16.8, 17.3, 17.7, 17.1, 17.3, 16.9, 17.9, 18.2, 18.5,
         17.8, 17.5, 16.9, 17.3, 17.2, 17.5, 18.0, 17.9, 18.4, 18.3, 17.9, 18.7, 18.4, 18.5, 17.6, 18.3, 18.5, 18.6, 18.7, 18.5,
         18.4, 18.0, 17.4, 18.0, 18.7, 19.6, 20.3, 20.6, 20.1, 20.4, 19.7, 19.2, 19.4, 19.2, 19.4, 19.1, 19.4, 19.5, 19.0, 18.5,
         19.2, 19.6, 18.9, 18.6, 18.8, 18.3, 19.6, 19.5, 19.9, 19.5, 19.0, 19.5, 19.8, 18.6, 18.8, 19.4, 19.6, 19.9, 20.1, 20.4,
         20.6, 21.2, 21.0]
p3_r4 = [12.9, 12.4, 13.1, 12.5, 12.1, 12.3, 12.1, 12.4, 11.7, 12.1, 12.5, 12.3, 12.7, 12.5, 12.8, 12.3, 12.6, 13.0, 12.9, 13.4,
         13.0, 12.1, 12.6, 12.4, 12.1, 12.6, 11.4, 11.9, 11.8, 12.3, 11.7, 11.9, 12.3, 13.2, 12.2, 12.5, 12.8, 13.1, 13.5, 13.2,
         12.9, 12.4, 13.4, 13.7, 13.3, 13.2, 13.5, 13.4, 14.2, 14.5, 14.1, 13.1, 13.6, 13.8, 14.3, 14.7, 14.8, 14.3, 14.0, 15.0,
         15.2, 14.7, 15.5, 15.2, 15.7, 16.2, 16.3, 15.5, 15.8, 15.2, 15.6, 14.9, 14.7, 14.2, 14.0, 13.8, 14.2, 14.5, 15.6, 15.5,
         16.0, 16.5, 16.1, 16.3, 16.0, 15.3, 15.6, 14.6, 13.5, 13.8, 13.0, 13.5, 13.8, 13.0, 13.2, 12.9, 13.3, 12.8, 13.3, 13.5,
         13.0, 12.4, 12.9, 13.4, 12.8, 12.6, 11.8, 11.6, 11.2, 11.9, 11.8, 12.2, 12.6, 12.1, 12.5, 11.8, 12.3, 13.0, 13.3, 13.5,
         14.0, 14.7, 14.6, 14.1, 14.3, 14.9, 15.3, 15.2, 14.8, 14.1, 14.5, 14.0, 14.2, 13.7, 12.9, 11.9, 12.7, 13.0, 12.4, 12.1,
         11.9, 11.5, 11.1]
p3_r5 = [6.3, 6.7, 6.4, 6.0, 5.7, 5.5, 5.3, 4.7, 4.9, 5.4, 4.9, 5.1, 4.8, 5.3, 4.5, 4.0, 4.9, 4.5, 4.9, 5.1,
         4.5, 3.9, 4.4, 4.8, 4.3, 4.6, 4.5, 4.9, 5.5, 5.7, 6.1, 5.7, 5.1, 5.7, 5.5, 6.2, 6.0, 6.3, 6.8, 6.3,
         5.7, 4.9, 4.9, 5.8, 6.0, 5.5, 6.2, 6.5, 6.0, 5.6, 5.9, 6.2, 5.8, 5.1, 6.0, 6.5, 7.2, 7.8, 7.6, 7.9,
         7.9, 7.6, 7.8, 7.8, 8.0, 8.3, 7.9, 7.5, 7.9, 8.0, 8.6, 8.7, 7.9, 8.2, 8.5, 9.1, 9.4, 8.7, 8.9, 8.7,
         8.3, 8.1, 7.3, 7.5, 6.9, 7.3, 6.9, 7.0, 7.1, 6.6, 6.3, 5.9, 5.2, 5.9, 5.2, 4.4, 4.3, 3.9, 4.5, 4.4,
         4.5, 4.8, 5.1, 4.7, 5.5, 5.3, 5.0, 5.6, 5.7, 5.9, 6.5, 6.3, 5.8, 6.1, 5.9, 6.2, 5.9, 5.6, 6.1, 7.0,
         6.3, 6.1, 6.8, 7.0, 7.4, 8.3, 7.2, 6.8, 6.7, 6.5, 6.9, 6.7, 6.9, 7.1, 6.3, 5.9, 5.8, 5.9, 4.6, 5.4,
         5.7, 5.9, 6.7, 6.1, 6.5, 6.7, 5.3, 4.9]

PANELS = [
    [p1_r1, p1_r2, p1_r3, p1_r4, p1_r5],
    [p2_r1, p2_r2, p2_r3, p2_r4, p2_r5],
    [p3_r1, p3_r2, p3_r3, p3_r4, p3_r5],
]

RED = "rgba(214, 39, 40, 0.9)"
FONT = "DejaVu Sans"
# the page body adds an 8px margin, so the figure is 8px smaller each way
W, H = 3492, 1742
X_DOMAINS = [[0.0304, 0.3391], [0.3577, 0.6664], [0.6856, 0.9943]]
Y_DOMAIN = [0.1481, 0.8795]

fig = go.Figure()

for k, runs in enumerate(PANELS, start=1):
    for run in runs:
        t = np.linspace(2, 0, len(run))
        fig.add_trace(go.Scatter(
            x=t, y=run, mode="lines",
            line=dict(color=RED, width=6.5),
            xaxis=f"x{k}", yaxis=f"y{k}",
            showlegend=False, hoverinfo="skip",
        ))

layout = dict(
    width=W, height=H,
    margin=dict(l=0, r=0, t=0, b=0),
    paper_bgcolor="white", plot_bgcolor="white",
    font=dict(family=FONT, color="black"),
    showlegend=False,
)

for k in range(1, 4):
    sfx = "" if k == 1 else str(k)
    layout[f"xaxis{sfx}"] = dict(
        domain=X_DOMAINS[k - 1], anchor=f"y{k}",
        range=[2.1, -0.1],
        tickvals=TICKS, ticktext=TICK_TEXT,
        tickfont=dict(size=69, family=FONT, color="black"),
        ticks="outside", ticklen=23, tickwidth=3, tickcolor="black",
        showgrid=True, gridcolor="#c9c9c9", gridwidth=2.5,
        showline=True, linecolor="black", linewidth=3,
        zeroline=False,
    )
    layout[f"yaxis{sfx}"] = dict(
        domain=Y_DOMAIN, anchor=f"x{k}",
        range=[0.24, 38.46],
        showticklabels=False, ticks="", showgrid=False,
        showline=True, linecolor="black", linewidth=3,
        zeroline=False,
    )

fig.update_layout(**layout)

# two-line panel titles
for k in range(3):
    xc = sum(X_DOMAINS[k]) / 2
    fig.add_annotation(text=f"τ = {TAU[k]} Myr", x=xc, y=0.9727, xref="paper", yref="paper",
                       showarrow=False, xanchor="center", yanchor="middle",
                       font=dict(size=83, family=FONT, color="black"))
    fig.add_annotation(text=f"σ = {SIGMA[k]} × 10⁻⁴ Tmole/yr", x=xc, y=0.9168, xref="paper", yref="paper",
                       showarrow=False, xanchor="center", yanchor="middle",
                       font=dict(size=83, family=FONT, color="black"))

fig.add_annotation(text="Time [Ga]", x=0.491, y=0.0396, xref="paper", yref="paper",
                   showarrow=False, xanchor="center", yanchor="middle",
                   font=dict(size=83, family=FONT, color="black"))
fig.add_annotation(text="CO₂ Outgassing Rate [-]", x=0.0135, y=0.5149, xref="paper", yref="paper",
                   showarrow=False, xanchor="center", yanchor="middle", textangle=-90,
                   font=dict(size=67, family=FONT, color="black"))

fig.write_html("out.html")
